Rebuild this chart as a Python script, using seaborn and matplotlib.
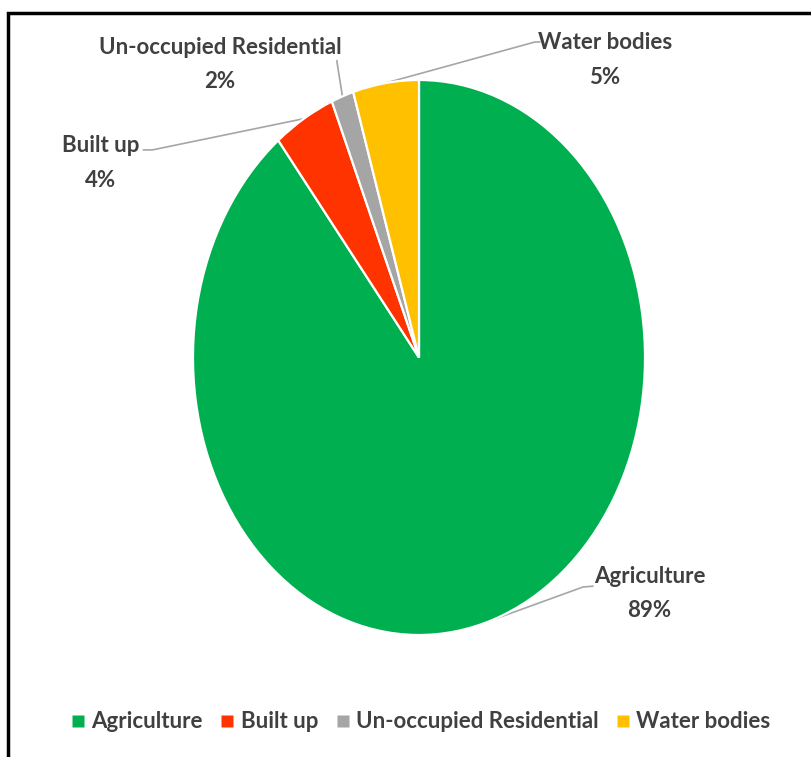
#!/usr/bin/env python3
"""Land-use share pie chart (Agriculture, Built up, Un-occupied Residential, Water bodies)."""

import numpy as np
import matplotlib

matplotlib.use("Agg")

import matplotlib.pyplot as plt
from matplotlib.patches import Rectangle
from matplotlib.lines import Line2D
import seaborn as sns


CATEGORIES = ["Agriculture", "Built up", "Un-occupied Residential", "Water bodies"]
SHARES = [89.3, 4.4, 1.6, 4.7]
PCT_LABELS = ["89%", "4%", "2%", "5%"]
COLORS = ["#00B050", "#FF3300", "#A5A5A5", "#FFC000"]

# label block centres and leader-line elbows, in pie data units (radius = 1)
LABEL_POS = [(1.02, -0.85), (-1.41, 0.70), (-0.88, 1.056), (0.823, 1.072)]
ELBOW_POS = [[(0.77, -0.824), (0.726, -0.827)],
             [(-1.22, 0.748), (-1.18, 0.748)],
             [(-0.363, 1.07), (-0.363, 1.065)],
             [(0.535, 1.137), (0.513, 1.137)]]

TEXT_COLOR = "#404040"
FONT = ["Lato", "DejaVu Sans"]
OUTPUT_PATH = "out.png"


def main() -> None:
    sns.set_theme(style="white")
    plt.rcParams["font.family"] = FONT

    W, H = 812, 757
    fig = plt.figure(figsize=(W / 100, H / 100), dpi=100)
    ax = fig.add_axes([193 / W, (H - 635) / H, 452 / W, 555 / H])

    wedges, _ = ax.pie(
        SHARES,
        colors=COLORS,
        startangle=90,
        counterclock=False,
        wedgeprops=dict(edgecolor="white", linewidth=1.6),
    )
    ax.set_aspect("auto")
    ax.set_xlim(-1, 1)
    ax.set_ylim(-1, 1)
    ax.axis("off")

    for wedge, name, pct, pos, elbow in zip(wedges, CATEGORIES, PCT_LABELS, LABEL_POS, ELBOW_POS):
        mid = np.deg2rad((wedge.theta1 + wedge.theta2) / 2)
        anchor = (np.cos(mid), np.sin(mid))
        xs = [elbow[0][0], elbow[1][0], anchor[0]]
        ys = [elbow[0][1], elbow[1][1], anchor[1]]
        ax.plot(xs, ys, color="#A6A6A6", linewidth=1.2, clip_on=False, zorder=0)
        ax.text(pos[0], pos[1], f"{name}\n{pct}", ha="center", va="center",
                fontsize=16, fontweight="bold", color=TEXT_COLOR,
                linespacing=1.8, clip_on=False)

    handles = [
        Line2D([0], [0], marker="s", color="none", markerfacecolor=c,
               markeredgecolor="none", markersize=9, label=lab)
        for c, lab in zip(COLORS, CATEGORIES)
    ]
    leg = fig.legend(
        handles=handles, loc="center", bbox_to_anchor=(421 / W, (H - 722) / H),
        ncol=4, frameon=False, handlelength=0.6, handletextpad=0.3,
        columnspacing=0.8, prop=dict(family=FONT, size=16, weight="bold"),
    )
    for t in leg.get_texts():
        t.set_color(TEXT_COLOR)

    fig.add_artist(Rectangle((8 / W, -0.1), 1.2, (H - 13) / H + 0.1,
                             transform=fig.transFigure, fill=False,
                             edgecolor="black", linewidth=2.5))

    fig.savefig(OUTPUT_PATH, dpi=100)
    plt.close(fig)


if __name__ == "__main__":
    main()
